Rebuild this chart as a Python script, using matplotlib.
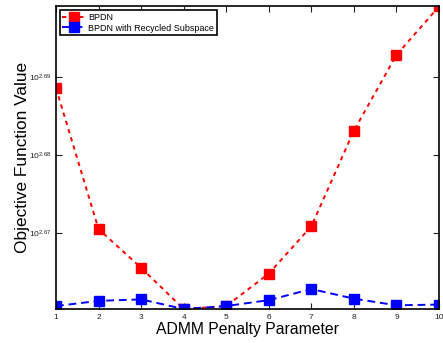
import matplotlib
matplotlib.use("Agg")
import matplotlib.pyplot as plt
from matplotlib.ticker import FixedLocator, FuncFormatter, NullLocator

plt.rcParams['font.family'] = ['Liberation Sans', 'DejaVu Sans']
plt.rcParams['mathtext.fontset'] = 'custom'
plt.rcParams['mathtext.rm'] = 'Liberation Sans'
plt.rcParams['mathtext.it'] = 'Liberation Sans'

# penalty parameter index
penalty = [1, 2, 3, 4, 5, 6, 7, 8, 9, 10]
# objective values
bpdn = [488.2, 468.3, 463.0, 457.4, 457.8, 462.2, 468.7, 482.1, 493.0, 500.1]
bpdn_recycled = [457.8, 458.5, 458.7, 457.4, 457.8, 458.6, 460.1, 458.8, 457.9, 458.0]
ytick_exps = [2.67, 2.68, 2.69]

fig = plt.figure(figsize=(4.43, 3.43), dpi=100)
ax = fig.add_axes([0.1264, 0.0991, 0.8646, 0.882])

ax.plot(penalty, bpdn, '--s', color='red', lw=1.4, ms=6.5, dashes=(2.2, 2.2),
        label='BPDN')
ax.plot(penalty, bpdn_recycled, '--s', color='blue', lw=1.4, ms=6.5, dashes=(4, 2.5),
        label='BPDN with Recycled Subspace')

ax.set_yscale('log')
ax.set_xlim(1, 10)
ax.set_ylim(min(bpdn + bpdn_recycled), max(bpdn + bpdn_recycled))
ax.set_xticks(penalty)
ax.yaxis.set_major_locator(FixedLocator([10 ** e for e in ytick_exps]))
ax.yaxis.set_minor_locator(NullLocator())
ax.yaxis.set_major_formatter(FuncFormatter(
    lambda v, p: r'$10^{%.2f}$' % ytick_exps[p] if p is not None and p < len(ytick_exps) else ''))

ax.tick_params(which='both', direction='in', top=True, right=True,
               labelsize=6, length=4, width=0.8, colors='#222222')
for s in ax.spines.values():
    s.set_linewidth(1.2)

ax.set_xlabel('ADMM Penalty Parameter', fontsize=11.3, labelpad=1)
ax.set_ylabel('Objective Function Value', fontsize=12.4, labelpad=-1)

leg = ax.legend(loc='upper left', fontsize=6.5, fancybox=False, framealpha=1,
                edgecolor='black', borderpad=0.3, handlelength=2.5,
                labelspacing=0.2, borderaxespad=0.4, handletextpad=0.4)
leg.get_frame().set_linewidth(1.2)

fig.savefig('out.png', dpi=100)
